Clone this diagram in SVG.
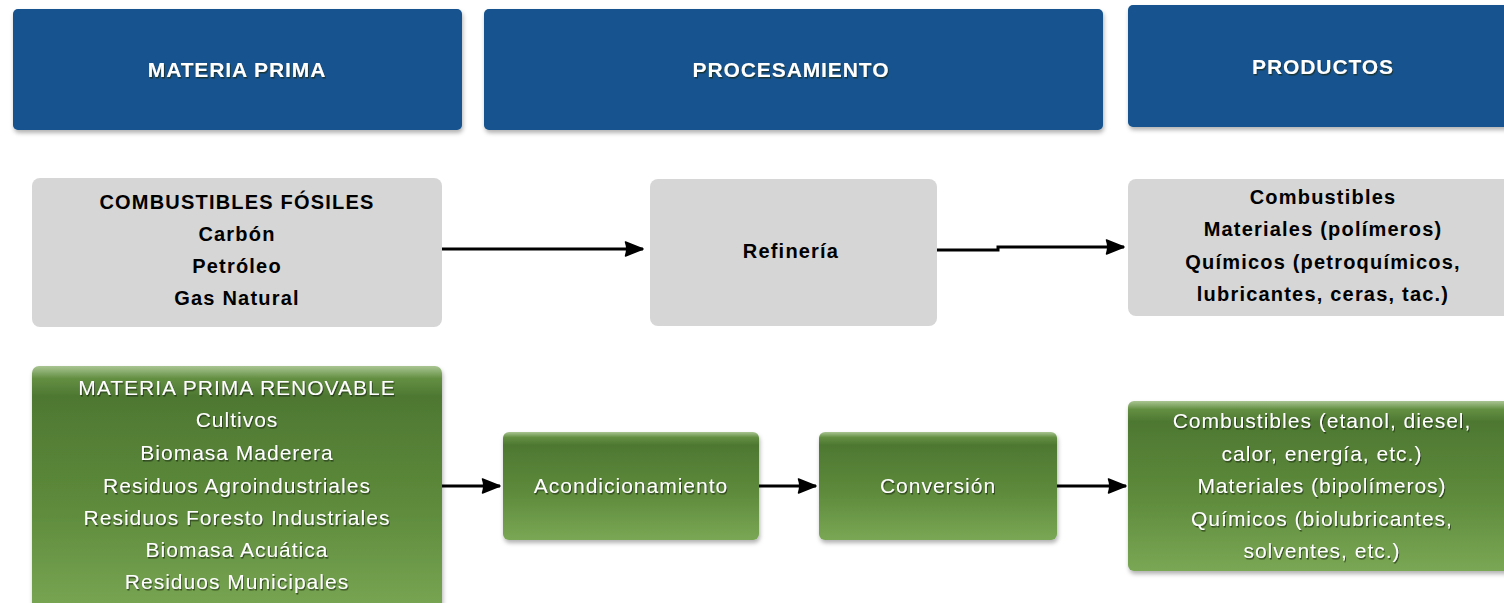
<svg xmlns="http://www.w3.org/2000/svg" width="1504" height="603" viewBox="0 0 1504 603">
  <defs>
    <linearGradient id="greenFill" x1="0" y1="0" x2="0" y2="1">
      <stop offset="0" stop-color="#a9c592"/>
      <stop offset="0.05" stop-color="#638f42"/>
      <stop offset="0.12" stop-color="#4e7832"/>
      <stop offset="0.55" stop-color="#5d8a3b"/>
      <stop offset="1" stop-color="#79a754"/>
    </linearGradient>
    <filter id="boxShadow" x="-5%" y="-10%" width="110%" height="125%">
      <feDropShadow dx="1" dy="3" stdDeviation="2" flood-color="#000" flood-opacity="0.3"/>
    </filter>
    <filter id="textShadow" x="-5%" y="-30%" width="110%" height="170%">
      <feDropShadow dx="1" dy="1.5" stdDeviation="0.7" flood-color="#1a2a10" flood-opacity="0.7"/>
    </filter>
    <marker id="arrow" markerUnits="userSpaceOnUse" markerWidth="22" markerHeight="18" refX="19" refY="8" orient="auto">
      <path d="M1.5,1 L19,8 L1.5,15 Q4,8 1.5,1 Z" fill="#000" stroke="#000" stroke-width="1.5" stroke-linejoin="round"/>
    </marker>
    <style>
      .header { fill: #13528f; filter: url(#boxShadow); }
      .grey { fill: #d6d6d6; }
      .green { fill: url(#greenFill); filter: url(#boxShadow); }
      .htext { font-family: "Liberation Sans", Arial, sans-serif; font-weight: bold; font-size: 21px; fill: #fff; letter-spacing: 0.9px; text-anchor: middle; filter: url(#textShadow); }
      .gtext { font-family: "Liberation Sans", Arial, sans-serif; font-weight: bold; font-size: 20px; fill: #000; letter-spacing: 1.2px; text-anchor: middle; }
      .wtext { font-family: "Liberation Sans", Arial, sans-serif; font-size: 21px; fill: #fff; letter-spacing: 1px; text-anchor: middle; filter: url(#textShadow); }
      .link { fill: none; stroke: #000; stroke-width: 3; marker-end: url(#arrow); }
    </style>
  </defs>

  <!-- column headers -->
  <g id="header-materia-prima">
    <rect class="header" x="13" y="9" width="449" height="121" rx="5"/>
    <text class="htext" x="237" y="77">MATERIA PRIMA</text>
  </g>
  <g id="header-procesamiento">
    <rect class="header" x="484" y="9" width="619" height="121" rx="5"/>
    <text class="htext" x="791" y="77">PROCESAMIENTO</text>
  </g>
  <g id="header-productos">
    <rect class="header" x="1128" y="5" width="400" height="122" rx="5"/>
    <text class="htext" x="1323" y="74">PRODUCTOS</text>
  </g>

  <!-- fossil route -->
  <g id="fosiles">
    <rect class="grey" x="32" y="178" width="410" height="149" rx="8"/>
    <text class="gtext" x="237" y="209">COMBUSTIBLES FÓSILES</text>
    <text class="gtext" x="237" y="241">Carbón</text>
    <text class="gtext" x="237" y="273">Petróleo</text>
    <text class="gtext" x="237" y="305">Gas Natural</text>
  </g>
  <g id="refineria">
    <rect class="grey" x="650" y="179" width="287" height="147" rx="8"/>
    <text class="gtext" x="791" y="258">Refinería</text>
  </g>
  <g id="productos-fosiles">
    <rect class="grey" x="1128" y="179" width="400" height="137" rx="8"/>
    <text class="gtext" x="1323" y="204">Combustibles</text>
    <text class="gtext" x="1323" y="236">Materiales (polímeros)</text>
    <text class="gtext" x="1323" y="269">Químicos (petroquímicos,</text>
    <text class="gtext" x="1323" y="301">lubricantes, ceras, tac.)</text>
  </g>

  <!-- renewable route -->
  <g id="renovable">
    <rect class="green" x="32" y="366" width="410" height="250" rx="7"/>
    <text class="wtext" x="237" y="395">MATERIA PRIMA RENOVABLE</text>
    <text class="wtext" x="237" y="427">Cultivos</text>
    <text class="wtext" x="237" y="460">Biomasa Maderera</text>
    <text class="wtext" x="237" y="493">Residuos Agroindustriales</text>
    <text class="wtext" x="237" y="525">Residuos Foresto Industriales</text>
    <text class="wtext" x="237" y="557">Biomasa Acuática</text>
    <text class="wtext" x="237" y="589">Residuos Municipales</text>
  </g>
  <g id="acondicionamiento">
    <rect class="green" x="503" y="432" width="256" height="108" rx="6"/>
    <text class="wtext" x="631" y="493">Acondicionamiento</text>
  </g>
  <g id="conversion">
    <rect class="green" x="819" y="432" width="238" height="108" rx="6"/>
    <text class="wtext" x="938" y="493">Conversión</text>
  </g>
  <g id="productos-renovables">
    <rect class="green" x="1128" y="401" width="400" height="170" rx="6"/>
    <text class="wtext" x="1322" y="428">Combustibles (etanol, diesel,</text>
    <text class="wtext" x="1322" y="461">calor, energía, etc.)</text>
    <text class="wtext" x="1322" y="493">Materiales (bipolímeros)</text>
    <text class="wtext" x="1322" y="526">Químicos (biolubricantes,</text>
    <text class="wtext" x="1322" y="558">solventes, etc.)</text>
  </g>

  <!-- connectors -->
  <g id="connectors">
    <path class="link" d="M442 249 H643"/>
    <path class="link" d="M937 250 H998 V247 H1124"/>
    <path class="link" d="M442 486 H500"/>
    <path class="link" d="M759 486 H816"/>
    <path class="link" d="M1057 486 H1126"/>
  </g>
</svg>
